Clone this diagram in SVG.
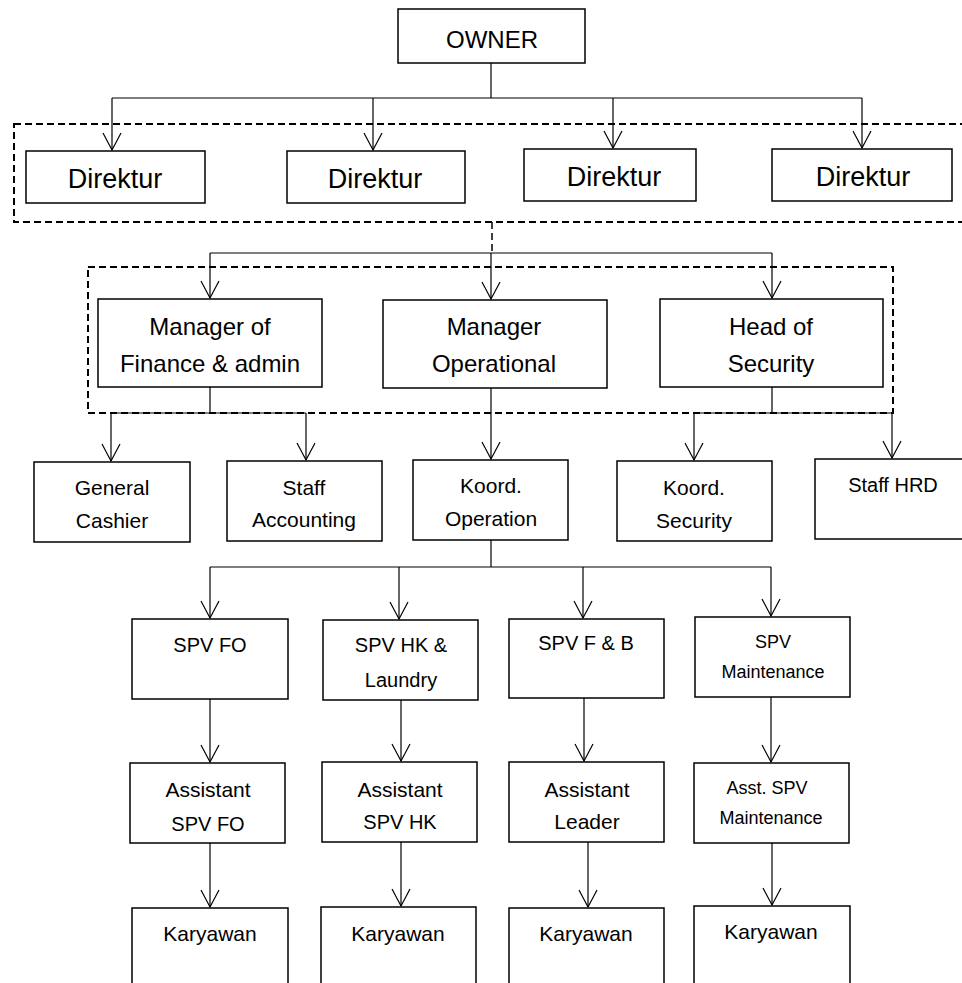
<svg xmlns="http://www.w3.org/2000/svg" width="962" height="983" viewBox="0 0 962 983">
<style>
.box{fill:#fff;stroke:#000;stroke-width:1.5}
.dash{fill:none;stroke:#000;stroke-width:2;stroke-dasharray:7 4}
.ln{fill:none;stroke:#000;stroke-width:1.2}
.dl{fill:none;stroke:#000;stroke-width:1.5;stroke-dasharray:7 4}
text{font-family:"Liberation Sans",Arial,sans-serif;fill:#000;text-anchor:middle}
.t24{font-size:24px}.t27{font-size:27px}.t21{font-size:21px}.t20{font-size:20px}.t18{font-size:18px}
</style>
<defs>
<marker id="arr" markerUnits="userSpaceOnUse" viewBox="-19 -11 21 22" markerWidth="21" markerHeight="22" refX="0" refY="0" orient="auto">
<path d="M-17,-9 L0,0 L-17,9" fill="none" stroke="#000" stroke-width="1.2"/>
</marker>
</defs>
<rect width="962" height="983" fill="#fff"/>
<g id="groups">
<rect class="dash" x="14" y="124" width="960" height="98"/>
<rect class="dash" x="88" y="267" width="805" height="146"/>
</g>
<g id="connectors">
<path class="ln" d="M491,63 V98 M112,98 H862"/>
<path class="ln" marker-end="url(#arr)" d="M112,98 V150"/>
<path class="ln" marker-end="url(#arr)" d="M373,98 V150"/>
<path class="ln" marker-end="url(#arr)" d="M613,98 V148"/>
<path class="ln" marker-end="url(#arr)" d="M862,98 V148"/>
<path class="dl" d="M492,222 V253"/>
<path class="ln" d="M210,253 H772"/>
<path class="ln" marker-end="url(#arr)" d="M210,253 V298"/>
<path class="ln" marker-end="url(#arr)" d="M491,253 V299"/>
<path class="ln" marker-end="url(#arr)" d="M772,253 V298"/>
<path class="ln" d="M210,387 V413 M111,413 H306"/>
<path class="ln" marker-end="url(#arr)" d="M111,413 V461"/>
<path class="ln" marker-end="url(#arr)" d="M306,413 V460"/>
<path class="ln" marker-end="url(#arr)" d="M491,388 V459"/>
<path class="ln" d="M772,387 V413 M694,413 H892"/>
<path class="ln" marker-end="url(#arr)" d="M694,413 V460"/>
<path class="ln" marker-end="url(#arr)" d="M892,413 V458"/>
<path class="ln" d="M491,540 V567 M210,567 H771"/>
<path class="ln" marker-end="url(#arr)" d="M210,567 V618"/>
<path class="ln" marker-end="url(#arr)" d="M399,567 V619"/>
<path class="ln" marker-end="url(#arr)" d="M583,567 V618"/>
<path class="ln" marker-end="url(#arr)" d="M771,567 V616"/>
<path class="ln" marker-end="url(#arr)" d="M210,699 V762"/>
<path class="ln" marker-end="url(#arr)" d="M401,700 V761"/>
<path class="ln" marker-end="url(#arr)" d="M584,698 V761"/>
<path class="ln" marker-end="url(#arr)" d="M771,697 V762"/>
<path class="ln" marker-end="url(#arr)" d="M210,843 V907"/>
<path class="ln" marker-end="url(#arr)" d="M401,842 V906"/>
<path class="ln" marker-end="url(#arr)" d="M588,842 V907"/>
<path class="ln" marker-end="url(#arr)" d="M772,843 V905"/>
</g>
<g id="owner"><rect class="box" x="398" y="9" width="187" height="54"/><text class="t24" x="492" y="48">OWNER</text></g>
<g id="direktur1"><rect class="box" x="26" y="151" width="179" height="52"/><text class="t27" x="115" y="188">Direktur</text></g>
<g id="direktur2"><rect class="box" x="287" y="151" width="178" height="52"/><text class="t27" x="375" y="188">Direktur</text></g>
<g id="direktur3"><rect class="box" x="524" y="149" width="172" height="52"/><text class="t27" x="614" y="186">Direktur</text></g>
<g id="direktur4"><rect class="box" x="772" y="149" width="180" height="52"/><text class="t27" x="863" y="186">Direktur</text></g>
<g id="mgr-finance"><rect class="box" x="98" y="299" width="224" height="88"/><text class="t24" x="210" y="335">Manager of</text><text class="t24" x="210" y="372">Finance &amp; admin</text></g>
<g id="mgr-operational"><rect class="box" x="383" y="300" width="224" height="88"/><text class="t24" x="494" y="335">Manager</text><text class="t24" x="494" y="372">Operational</text></g>
<g id="head-security"><rect class="box" x="660" y="299" width="223" height="88"/><text class="t24" x="771" y="335">Head of</text><text class="t24" x="771" y="372">Security</text></g>
<g id="general-cashier"><rect class="box" x="34" y="462" width="156" height="80"/><text class="t21" x="112" y="495">General</text><text class="t21" x="112" y="528">Cashier</text></g>
<g id="staff-accounting"><rect class="box" x="227" y="461" width="155" height="80"/><text class="t21" x="304" y="495">Staff</text><text class="t21" x="304" y="527">Accounting</text></g>
<g id="koord-operation"><rect class="box" x="413" y="460" width="155" height="80"/><text class="t21" x="491" y="493">Koord.</text><text class="t21" x="491" y="526">Operation</text></g>
<g id="koord-security"><rect class="box" x="617" y="461" width="155" height="80"/><text class="t21" x="694" y="495">Koord.</text><text class="t21" x="694" y="528">Security</text></g>
<g id="staff-hrd"><rect class="box" x="815" y="459" width="160" height="80"/><text class="t20" x="893" y="492">Staff HRD</text></g>
<g id="spv-fo"><rect class="box" x="132" y="619" width="156" height="80"/><text class="t20" x="210" y="652">SPV FO</text></g>
<g id="spv-hk"><rect class="box" x="323" y="620" width="155" height="80"/><text class="t20" x="401" y="652">SPV HK &amp;</text><text class="t20" x="401" y="687">Laundry</text></g>
<g id="spv-fb"><rect class="box" x="509" y="619" width="155" height="79"/><text class="t20" x="586" y="650">SPV F &amp; B</text></g>
<g id="spv-maintenance"><rect class="box" x="695" y="617" width="155" height="80"/><text class="t18" x="773" y="648">SPV</text><text class="t18" x="773" y="678">Maintenance</text></g>
<g id="asst-spv-fo"><rect class="box" x="130" y="763" width="155" height="80"/><text class="t21" x="208" y="797">Assistant</text><text class="t20" x="208" y="831">SPV FO</text></g>
<g id="asst-spv-hk"><rect class="box" x="322" y="762" width="155" height="80"/><text class="t21" x="400" y="797">Assistant</text><text class="t20" x="400" y="829">SPV HK</text></g>
<g id="asst-leader"><rect class="box" x="509" y="762" width="155" height="80"/><text class="t21" x="587" y="797">Assistant</text><text class="t21" x="587" y="829">Leader</text></g>
<g id="asst-spv-maintenance"><rect class="box" x="694" y="763" width="155" height="80"/><text class="t18" x="767" y="794">Asst. SPV</text><text class="t18" x="771" y="824">Maintenance</text></g>
<g id="karyawan1"><rect class="box" x="132" y="908" width="156" height="100"/><text class="t21" x="210" y="941">Karyawan</text></g>
<g id="karyawan2"><rect class="box" x="321" y="907" width="155" height="100"/><text class="t21" x="398" y="941">Karyawan</text></g>
<g id="karyawan3"><rect class="box" x="509" y="908" width="155" height="100"/><text class="t21" x="586" y="941">Karyawan</text></g>
<g id="karyawan4"><rect class="box" x="694" y="906" width="156" height="100"/><text class="t21" x="771" y="939">Karyawan</text></g>
</svg>
